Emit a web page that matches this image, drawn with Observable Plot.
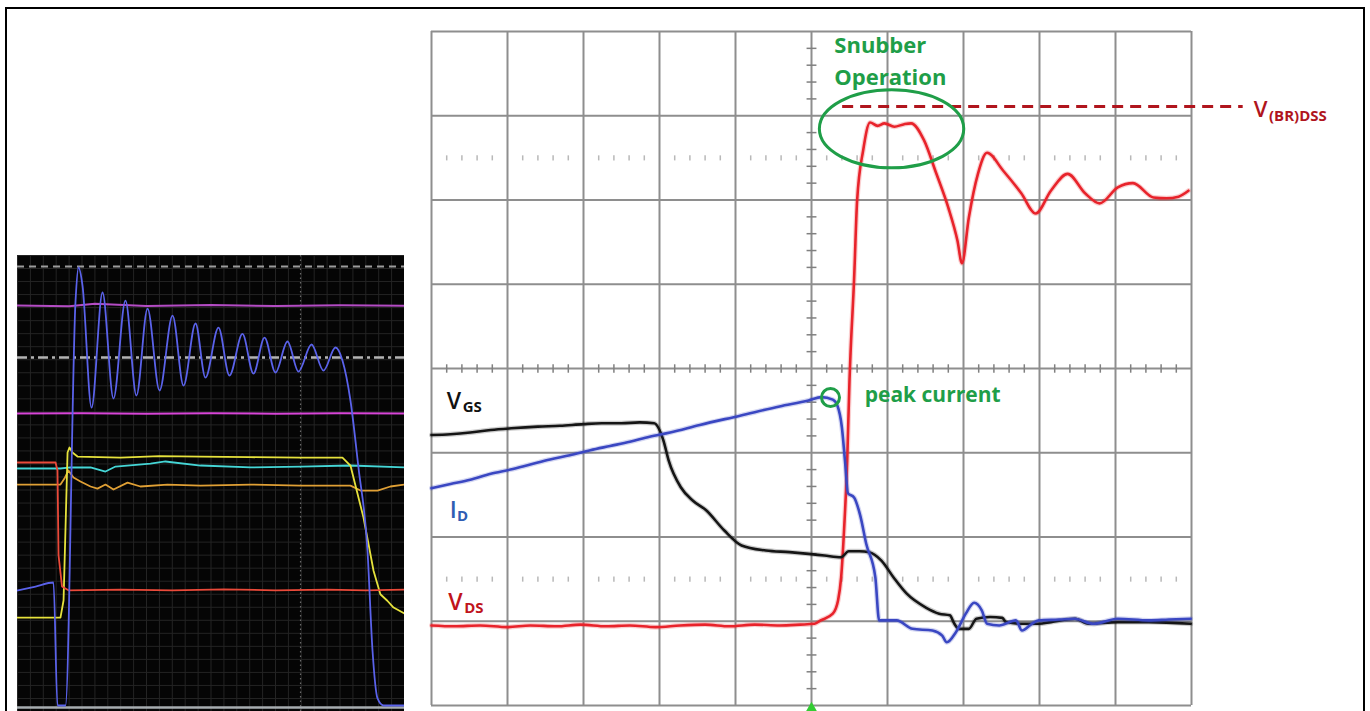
<!DOCTYPE html>
<html><head><meta charset="utf-8">
<script src="https://cdn.jsdelivr.net/npm/d3@7"></script>
<script src="https://cdn.jsdelivr.net/npm/@observablehq/plot@0.6"></script>
<style>
html,body{margin:0;padding:0;background:#fff;}
#page{position:relative;width:1370px;height:711px;overflow:hidden;font-family:"Open Sans",sans-serif;}
#border{position:absolute;left:5px;top:7px;width:1360px;height:720px;border:2.5px solid #000;border-bottom:none;box-sizing:border-box;}
#left{position:absolute;left:17px;top:255px;line-height:0;}
#main{position:absolute;left:420px;top:10px;line-height:0;}
</style></head>
<body>
<div id="page"><div id="border"></div><div id="left"></div><div id="main"></div></div>
<script>
// ---------- Main scope traces: [time (div), level (div)] ----------
const vdsTrace = [[0,0.95],[0.3,0.94],[0.64,0.95],[1.0,0.93],[1.3,0.95],[1.65,0.94],[1.96,0.96],[2.3,0.94],[2.61,0.95],[2.95,0.93],[3.27,0.95],[3.6,0.96],[3.92,0.94],[4.25,0.96],[4.58,0.95],[4.85,0.96],[5.04,0.97],[5.12,1.01],[5.28,1.09],[5.35,1.25],[5.39,1.52],[5.43,2.11],[5.47,2.91],[5.50,3.86],[5.51,4.10],[5.56,5.05],[5.60,5.99],[5.68,6.59],[5.77,6.92],[5.87,6.88],[5.96,6.91],[6.09,6.87],[6.22,6.90],[6.31,6.91],[6.48,6.71],[6.64,6.32],[6.80,5.91],[6.92,5.52],[6.98,5.25],[7.07,5.79],[7.19,6.31],[7.31,6.56],[7.52,6.35],[7.76,6.08],[7.95,5.84],[8.15,6.11],[8.37,6.31],[8.60,6.08],[8.79,5.96],[9.03,6.15],[9.23,6.20],[9.50,6.03],[9.67,6.02],[9.83,6.04],[9.96,6.11]];
const idTrace = [[0,2.58],[0.25,2.63],[0.51,2.68],[0.78,2.75],[1.04,2.80],[1.3,2.86],[1.56,2.92],[1.82,2.97],[2.09,3.03],[2.35,3.08],[2.61,3.13],[2.87,3.19],[3.14,3.24],[3.53,3.33],[4.06,3.44],[4.58,3.55],[4.96,3.62],[5.13,3.66],[5.28,3.63],[5.34,3.56],[5.40,3.30],[5.44,2.91],[5.48,2.52],[5.56,2.47],[5.64,2.26],[5.72,1.92],[5.84,1.52],[5.89,1.01],[6.12,1.01],[6.33,0.91],[6.59,0.89],[6.72,0.83],[6.78,0.75],[6.90,0.87],[7.03,1.09],[7.14,1.22],[7.24,1.13],[7.31,0.97],[7.47,0.95],[7.69,1.01],[7.77,0.89],[7.90,0.97],[7.99,1.01],[8.26,1.02],[8.46,1.03],[8.71,0.97],[9.03,1.03],[9.44,1.01],[9.70,1.02],[9.99,1.03]];
const vgsTrace = [[0,3.21],[0.25,3.22],[0.51,3.24],[0.78,3.27],[1.05,3.29],[1.4,3.31],[1.69,3.32],[2.0,3.34],[2.24,3.35],[2.5,3.35],[2.74,3.36],[2.93,3.35],[3.05,3.15],[3.12,2.91],[3.28,2.59],[3.44,2.43],[3.61,2.32],[3.85,2.08],[4.08,1.90],[4.40,1.84],[4.71,1.82],[4.96,1.80],[5.17,1.78],[5.39,1.76],[5.49,1.83],[5.63,1.83],[5.76,1.82],[5.92,1.72],[6.08,1.52],[6.25,1.33],[6.51,1.16],[6.68,1.09],[6.82,1.07],[6.88,0.97],[6.94,0.91],[7.07,0.91],[7.17,1.03],[7.35,1.05],[7.51,1.04],[7.56,0.99],[7.78,0.97],[7.99,0.97],[8.15,0.99],[8.47,1.03],[8.64,0.97],[9.03,0.99],[9.44,0.99],[9.99,0.97]];
const vbrLevel = [{v:7.11, t1:5.41, t2:10.68}];
const mainGridX = [0,1,2,3,4,5,6,7,8,9,10];
const mainGridY = [0,1,2,3,4,5,6,7,8];
const subDivX = d3.range(0, 10.01, 0.2);
const subDivY = d3.range(0, 8.01, 0.2);
const dottedRows = [1.5, 6.5];

// ---------- Left scope traces: [time (cell), level (cell)] ----------
const leftBlue = [[0,9.29],[1.40,9.59],[2.79,9.90],[3.10,0.46],[3.72,0.46],[4.50,31.54],[4.73,34.08],[5.04,32.69],[5.74,23.33],[6.59,32.16],[7.44,24.02],[8.37,31.54],[9.22,24.25],[10.08,30.93],[11.01,24.64],[12.02,30.39],[12.87,25.02],[13.80,29.78],[14.57,25.63],[15.58,29.47],[16.43,25.79],[17.44,28.98],[18.29,25.94],[19.15,28.70],[20.00,26.02],[20.93,28.40],[21.78,26.09],[22.79,28.17],[23.72,26.17],[24.65,27.94],[25.19,26.94],[25.81,23.87],[26.43,18.73],[27.13,12.36],[27.52,4.68],[27.91,1.00],[28.37,0.46],[30.00,0.46]];
const leftRed = [[0,19.11],[2.95,19.11],[3.10,18.5],[3.18,12.0],[3.45,9.60],[3.95,9.30],[8,9.36],[12,9.30],[16,9.38],[20,9.30],[24,9.36],[27,9.30],[30,9.36]];
const leftYellow = [[0,7.21],[3.33,7.21],[3.57,8.52],[3.88,19.88],[4.03,20.26],[4.26,19.88],[4.65,19.57],[7.98,19.49],[11,19.60],[14.19,19.57],[18,19.52],[21.94,19.49],[25.19,19.49],[25.81,18.88],[26.82,14.89],[27.60,10.80],[28.13,9.00],[28.67,8.50],[29.15,7.98],[30,7.52]];
const leftCyan = [[0,18.65],[3.33,18.65],[4.11,18.73],[5.66,18.73],[6.82,18.42],[7.60,18.80],[10.31,19.03],[11.47,19.19],[14.19,18.88],[18.06,18.73],[21.94,18.80],[25.81,18.88],[30,18.73]];
const leftOrange = [[0,17.42],[3.33,17.42],[3.64,17.88],[3.95,18.50],[4.34,17.96],[4.88,17.65],[5.66,17.27],[6.20,17.11],[6.82,17.42],[7.44,17.04],[8.53,17.57],[9.53,17.27],[11.63,17.42],[14.19,17.34],[18.06,17.42],[21.94,17.34],[25.81,17.34],[26.59,16.96],[27.91,16.96],[28.91,17.27],[30,17.42]];
const leftMagentaTop = [[0,31.16],[4,31.10],[6,31.30],[10,31.12],[15,31.20],[20,31.12],[25,31.18],[30,31.14]];
const leftMagentaBottom = [[0,22.87],[5,22.90],[10,22.85],[15,22.90],[20,22.86],[25,22.90],[30,22.87]];
const leftRefDash = [34.15];
const leftRefDashDot = [27.17];
const leftGridX = d3.range(0, 31);
const leftGridY = d3.range(0, 36);
const leftMajorX = [21.94];

// ---------- Annotations ----------
const green = "#1f9e48";
const snubberText = [{t:5.30, v:7.75, text:"Snubber"}, {t:5.30, v:7.37, text:"Operation"}];
const snubberEllipse = {t:6.06, v:6.84, rt:0.95, rv:0.463};
const peakCircle = [{t:5.25, v:3.656}];
const peakText = [{t:5.70, v:3.60, text:"peak current"}];
const traceLabels = [
  {t:0.20, v:3.525, main:"V", sub:"GS", subT:0.41, color:"#111111"},
  {t:0.24, v:2.231, main:"I", sub:"D", subT:0.335, color:"#2f5db3"},
  {t:0.22, v:1.128, main:"V", sub:"DS", subT:0.43, color:"#c0141c"}
];
const vbrLabel = {t:10.82, v:6.99, main:"V", sub:"(BR)DSS", subT:11.02, color:"#b0151d"};

function subText(a, size, subSize, subDy){
  return [
    Plot.text([a], {x:"t", y:"v", text:"main", fill:a.color, fontSize:size, fontWeight:600, textAnchor:"start", lineAnchor:"bottom"}),
    Plot.text([a], {x:"subT", y:"v", text:"sub", fill:a.color, fontSize:subSize, fontWeight:700, textAnchor:"start", lineAnchor:"bottom", dy:subDy})
  ];
}

function ellipseMark(e, stroke){
  return (index, scales) => {
    const cx = scales.x(e.t), cy = scales.y(e.v);
    const rx = Math.abs(scales.x(e.t + e.rt) - cx), ry = Math.abs(scales.y(e.v + e.rv) - cy);
    const el = document.createElementNS("http://www.w3.org/2000/svg", "ellipse");
    el.setAttribute("cx", cx); el.setAttribute("cy", cy);
    el.setAttribute("rx", rx); el.setAttribute("ry", ry);
    el.setAttribute("fill", "none"); el.setAttribute("stroke", stroke);
    el.setAttribute("stroke-width", 3);
    return el;
  };
}

const isSub = d => Math.abs(d*5 - Math.round(d)*5) > 0.01;
const gridColor = "#8e8e8e";
function trace(data, color){
  return [
    Plot.line(data, {stroke: color, strokeWidth: 5, strokeOpacity: 0.22, curve: "monotone-x"}),
    Plot.line(data, {stroke: color, strokeWidth: 2.6, curve: "monotone-x"})
  ];
}
const mainPlot = Plot.plot({
  width: 950, height: 701,
  marginLeft: 11, marginRight: 179, marginTop: 21, marginBottom: 6,
  x: {domain: [0, 10], axis: null},
  y: {domain: [0, 8], axis: null},
  style: {background: "transparent", overflow: "visible", fontFamily: "'Open Sans', sans-serif"},
  marks: [
    Plot.ruleX(mainGridX, {stroke: gridColor, strokeWidth: 2}),
    Plot.ruleY(mainGridY, {stroke: gridColor, strokeWidth: 2}),
    Plot.link(subDivY.filter(isSub), {x1: () => 4.935, x2: () => 5.065, y1: d => d, y2: d => d, stroke: "#808080", strokeWidth: 1.5}),
    Plot.link(subDivX.filter(isSub), {x1: d => d, x2: d => d, y1: () => 3.95, y2: () => 4.05, stroke: "#808080", strokeWidth: 1.5}),
    ...dottedRows.map(r => Plot.link(subDivX.filter(isSub), {x1: d => d, x2: d => d, y1: () => r - 0.03, y2: () => r + 0.03, stroke: "#b8b8b8", strokeWidth: 1.5})),
    ...trace(vdsTrace, "#e8232b"),
    ...trace(vgsTrace, "#151515"),
    ...trace(idTrace, "#3a47c2"),
    Plot.ruleY(vbrLevel, {y: "v", x1: "t1", x2: "t2", stroke: "#b0151d", strokeWidth: 3, strokeDasharray: "11,7"}),
    ellipseMark(snubberEllipse, green),
    Plot.dot(peakCircle, {x: "t", y: "v", r: 9, stroke: green, strokeWidth: 3, fill: "none"}),
    Plot.text(snubberText, {x: "t", y: "v", text: "text", fill: green, fontSize: 22, fontWeight: 700, textAnchor: "start", lineAnchor: "bottom"}),
    Plot.text(peakText, {x: "t", y: "v", text: "text", fill: green, fontSize: 21, fontWeight: 700, textAnchor: "start", lineAnchor: "bottom"}),
    ...traceLabels.flatMap(a => subText(a, 23, 15, 3)),
    ...subText(vbrLabel, 22, 15, 4),
    Plot.dot([{t: 5, v: 0}], {x: "t", y: "v", symbol: "triangle", r: 5, fill: "#33cc33", dy: 4})
  ]
});
document.getElementById("main").appendChild(mainPlot);

const leftPlot = Plot.plot({
  width: 387, height: 456,
  margin: 0,
  x: {domain: [0, 30], axis: null},
  y: {domain: [0, 35], axis: null},
  style: {background: "#050505", overflow: "hidden"},
  marks: [
    Plot.ruleX(leftGridX, {stroke: "#242424", strokeWidth: 1}),
    Plot.ruleY(leftGridY, {stroke: "#242424", strokeWidth: 1}),
    Plot.ruleX(leftMajorX, {stroke: "#6a6a6a", strokeWidth: 1.2, strokeDasharray: "1.5,3"}),
    Plot.ruleY(leftRefDash, {stroke: "#9c9c9c", strokeWidth: 2, strokeDasharray: "7,5"}),
    Plot.ruleY(leftRefDashDot, {stroke: "#b4b4b4", strokeWidth: 2.5, strokeDasharray: "10,4,3,4"}),
    Plot.ruleY([0.3], {stroke: "#a7adb0", strokeWidth: 2.5}),
    Plot.line(leftMagentaTop, {stroke: "#b44cc4", strokeWidth: 2}),
    Plot.line(leftMagentaBottom, {stroke: "#d845d8", strokeWidth: 2}),
    Plot.line(leftOrange, {stroke: "#e0a035", strokeWidth: 1.8}),
    Plot.line(leftCyan, {stroke: "#45d6d6", strokeWidth: 1.8}),
    Plot.line(leftYellow, {stroke: "#e6e23c", strokeWidth: 1.8}),
    Plot.line(leftRed, {stroke: "#ea4a3a", strokeWidth: 1.8}),
    Plot.line(leftBlue, {stroke: "#5a62ea", strokeWidth: 1.8, curve: "monotone-x"})
  ]
});
document.getElementById("left").appendChild(leftPlot);
</script>
</body></html>
